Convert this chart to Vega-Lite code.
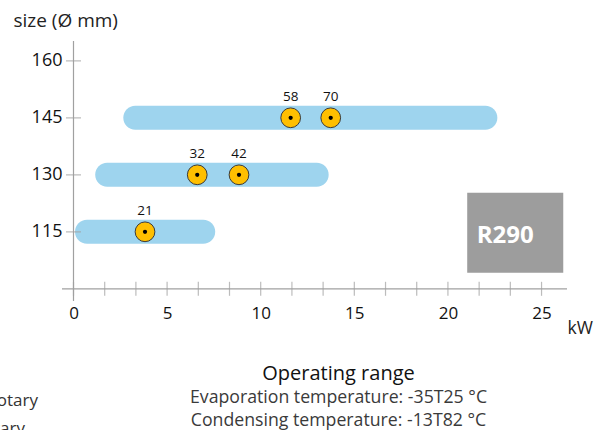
{
  "$schema": "https://vega.github.io/schema/vega-lite/v6.json",
  "width": 505,
  "height": 260,
  "autosize": {"type": "none"},
  "padding": {"left": 62, "top": 41, "right": 43, "bottom": 129},
  "config": {"font": "Open Sans", "view": {"stroke": null}},
  "title": {
    "text": "Operating range",
    "subtitle": ["Evaporation temperature: -35T25 °C", "Condensing temperature: -13T82 °C"],
    "orient": "bottom",
    "anchor": "middle",
    "frame": "group",
    "dx": 24,
    "offset": -73,
    "fontSize": 20,
    "fontWeight": "normal",
    "color": "#111111",
    "subtitleFontSize": 17.7,
    "subtitleColor": "#3a3a3a",
    "subtitleLineHeight": 23.3,
    "subtitlePadding": 5
  },
  "datasets": {
    "bars": [
      {"size": 115, "from": 0.08, "to": 7.57},
      {"size": 130, "from": 1.16, "to": 13.63},
      {"size": 145, "from": 2.66, "to": 22.64}
    ],
    "models": [
      {"size": 115, "kw": 3.82, "label": "21"},
      {"size": 130, "kw": 6.61, "label": "32"},
      {"size": 130, "kw": 8.84, "label": "42"},
      {"size": 145, "kw": 11.6, "label": "58"},
      {"size": 145, "kw": 13.74, "label": "70"}
    ],
    "xticks": [
      {"kw": 0}, {"kw": 1.667}, {"kw": 3.333}, {"kw": 5}, {"kw": 6.667}, {"kw": 8.333},
      {"kw": 10}, {"kw": 11.667}, {"kw": 13.333}, {"kw": 15}, {"kw": 16.667}, {"kw": 18.333},
      {"kw": 20}, {"kw": 21.667}, {"kw": 23.333}, {"kw": 25}
    ],
    "yticks": [{"size": 115}, {"size": 130}, {"size": 145}, {"size": 160}],
    "refrigerant": [{"name": "R290"}],
    "legend": [{"name": "Rotary", "row": 1}, {"name": "Rotary", "row": 2}]
  },
  "layer": [
    {
      "data": {"name": "bars"},
      "mark": {"type": "bar", "cornerRadius": 12, "size": 24, "color": "#9ed4ee"},
      "encoding": {
        "x": {
          "field": "from", "type": "quantitative",
          "scale": {"domain": [-0.614, 26.36], "nice": false, "zero": false, "padding": 0},
          "axis": {
            "values": [0, 5, 10, 15, 20, 25], "domain": false, "grid": false, "ticks": false, "tickSize": 0,
            "labelPadding": 4, "labelFontSize": 17, "labelColor": "#111111",
            "title": "kW", "titleFontSize": 17.5, "titleFontWeight": "normal", "titleColor": "#222222",
            "titleX": 505, "titleY": 27, "titleAlign": "left", "titleBaseline": "middle"
          }
        },
        "x2": {"field": "to"},
        "y": {
          "field": "size", "type": "quantitative",
          "scale": {"domain": [96.79, 165.21], "nice": false, "zero": false, "padding": 0},
          "axis": {
            "values": [115, 130, 145, 160], "domain": false, "grid": false, "ticks": false, "tickSize": 0,
            "labelPadding": 0, "labelFontSize": 18, "labelColor": "#111111",
            "title": "size (Ø mm)", "titleFontSize": 19, "titleFontWeight": "normal", "titleColor": "#222222",
            "titleAngle": 0, "titleX": -49, "titleY": -21, "titleAlign": "left", "titleBaseline": "middle"
          }
        }
      }
    },
    {
      "data": {"values": [{}]},
      "mark": {"type": "rule", "color": "#a0a0a0", "strokeWidth": 1.2},
      "encoding": {"x": {"datum": 0}}
    },
    {
      "data": {"values": [{}]},
      "mark": {"type": "rule", "color": "#a0a0a0", "strokeWidth": 1.2},
      "encoding": {"y": {"datum": 100}}
    },
    {
      "data": {"name": "xticks"},
      "mark": {"type": "tick", "orient": "vertical", "size": 14, "thickness": 1.2, "color": "#a0a0a0"},
      "encoding": {
        "x": {"field": "kw", "type": "quantitative"},
        "y": {"datum": 100}
      }
    },
    {
      "data": {"name": "yticks"},
      "mark": {"type": "tick", "orient": "horizontal", "size": 15, "thickness": 1.2, "color": "#a0a0a0"},
      "encoding": {
        "y": {"field": "size", "type": "quantitative"},
        "x": {"datum": 0}
      }
    },
    {
      "data": {"values": [{}]},
      "mark": {"type": "rect", "color": "#9d9d9d"},
      "encoding": {
        "x": {"datum": 21.03}, "x2": {"datum": 26.16},
        "y": {"datum": 125.3}, "y2": {"datum": 104.2}
      }
    },
    {
      "data": {"name": "refrigerant"},
      "mark": {"type": "text", "align": "left", "baseline": "alphabetic", "fontSize": 24, "fontWeight": "bold", "color": "#ffffff"},
      "encoding": {
        "text": {"field": "name"},
        "x": {"datum": 21.54},
        "y": {"datum": 112}
      }
    },
    {
      "data": {"name": "models"},
      "mark": {"type": "point", "shape": "circle", "filled": true, "size": 390, "color": "#ffbf00", "stroke": "#3a3a3a", "strokeWidth": 1, "opacity": 1},
      "encoding": {
        "x": {"field": "kw", "type": "quantitative"},
        "y": {"field": "size", "type": "quantitative"}
      }
    },
    {
      "data": {"name": "models"},
      "mark": {"type": "point", "shape": "circle", "filled": true, "size": 18, "color": "#000000", "opacity": 1},
      "encoding": {
        "x": {"field": "kw", "type": "quantitative"},
        "y": {"field": "size", "type": "quantitative"}
      }
    },
    {
      "data": {"name": "models"},
      "mark": {"type": "text", "dy": -21, "baseline": "middle", "fontSize": 13.5, "color": "#111111"},
      "encoding": {
        "text": {"field": "label"},
        "x": {"field": "kw", "type": "quantitative"},
        "y": {"field": "size", "type": "quantitative"}
      }
    },
    {
      "data": {"name": "legend"},
      "transform": [{"filter": "datum.row == 1"}],
      "mark": {"type": "text", "align": "right", "baseline": "middle", "fontSize": 17, "color": "#333333"},
      "encoding": {
        "text": {"field": "name"},
        "x": {"datum": -1.9},
        "y": {"datum": 70.5}
      }
    },
    {
      "data": {"name": "legend"},
      "transform": [{"filter": "datum.row == 2"}],
      "mark": {"type": "text", "align": "right", "baseline": "middle", "fontSize": 17, "color": "#333333"},
      "encoding": {
        "text": {"field": "name"},
        "x": {"datum": -2.59},
        "y": {"datum": 63.2}
      }
    }
  ]
}
